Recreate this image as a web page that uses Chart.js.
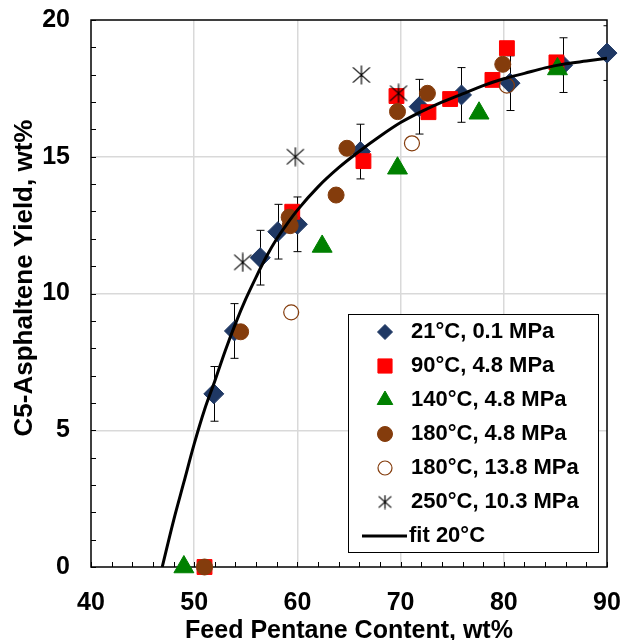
<!DOCTYPE html>
<html>
<head>
<meta charset="utf-8">
<script src="https://cdn.jsdelivr.net/npm/chart.js@4.4.1/dist/chart.umd.min.js"></script>
<style>
  html, body { margin: 0; padding: 0; background: #fff; }
  #wrap { width: 624px; height: 640px; }
</style>
</head>
<body>
<div id="wrap"><canvas id="yieldChart" width="624" height="640"></canvas></div>
<script>
// Values
const seriesNames = ['21°C, 0.1 MPa', '90°C, 4.8 MPa', '140°C, 4.8 MPa', '180°C, 4.8 MPa',
                     '180°C, 13.8 MPa', '250°C, 10.3 MPa', 'fit 20°C'];

const pentane21 = [51.9, 53.9, 56.4, 58.1, 60.0, 66.1, 71.8, 75.9, 80.6, 85.7, 90.0];
const yield21   = [6.33, 8.63, 11.31, 12.26, 12.53, 15.19, 16.83, 17.26, 17.69, 18.35, 18.79];
const error21   = [1.0, 1.0, 1.0, 1.0, 1.0, 1.0, 1.0, 1.0, 1.0, 1.0, 1.0];

const pentane90 = [51.0, 59.5, 66.4, 69.6, 72.7, 74.8, 78.9, 80.3, 85.1];
const yield90   = [0, 12.99, 14.84, 17.22, 16.63, 17.11, 17.81, 18.97, 18.45];

const pentane140 = [49.0, 62.4, 69.7, 77.6, 85.2];
const yield140   = [0, 11.72, 14.58, 16.59, 18.21];

const pentane180 = [51.0, 54.5, 59.2, 59.3, 63.75, 64.8, 69.7, 72.6, 79.9];
const yield180   = [0, 8.6, 12.79, 12.48, 13.6, 15.31, 16.65, 17.32, 18.38];

const pentane180hp = [59.4, 71.1, 80.3];
const yield180hp   = [9.31, 15.49, 17.6];

const pentane250 = [54.7, 59.8, 66.2, 69.8];
const yield250   = [11.14, 15.0, 17.99, 17.32];

const fitX = [46.9, 48, 49, 50, 51, 52, 53, 54, 55, 56, 57, 58, 59, 60, 62, 64, 66, 68, 70,
              72, 74, 76, 78, 80, 82, 84, 86, 88, 90];
const fitY = [0, 1.7, 3.1, 4.5, 5.75, 6.8, 7.9, 8.9, 9.8, 10.6, 11.35, 12.0, 12.55, 13.05, 13.9,
              14.6, 15.2, 15.75, 16.25, 16.65, 17.0, 17.3, 17.6, 17.85, 18.05, 18.25, 18.4, 18.5, 18.6];

const xTicksMajor = [40, 50, 60, 70, 80, 90];
const yTicksMajor = [0, 5, 10, 15, 20];
const yTitle = 'C5-Asphaltene Yield, wt%';

const toPoints = (xs, ys) => xs.map((x, i) => ({ x: x, y: ys[i] }));

const FONT = '"Liberation Sans", Arial, sans-serif';
Chart.defaults.font.family = FONT;
Chart.defaults.color = '#000';

// six-armed asterisk marker
function makeAsterisk(size) {
    const c = document.createElement('canvas');
    c.width = size; c.height = size;
    const g = c.getContext('2d');
    const m = size / 2, r = size / 2 - 0.5;
    g.strokeStyle = '#000';
    g.lineWidth = 1.2;
    g.beginPath();
    g.moveTo(m - r * 0.9, m - r * 0.8); g.lineTo(m + r * 0.9, m + r * 0.8);
    g.moveTo(m + r * 0.9, m - r * 0.8); g.lineTo(m - r * 0.9, m + r * 0.8);
    g.moveTo(m, 0.5); g.lineTo(m, size - 0.5);
    g.stroke();
    return c;
}
const asteriskBig = makeAsterisk(20);
const asteriskSmall = makeAsterisk(15);

// frame + inward minor ticks + y title
const frameTicks = {
    id: 'frameTicks',
    beforeDatasetsDraw(chart) {
        const { ctx, chartArea: a, scales: { x, y } } = chart;
        ctx.save();
        ctx.strokeStyle = '#000';
        ctx.lineWidth = 1;
        ctx.beginPath();
        for (let v = 40; v <= 90; v += 2) {
            const px = Math.round(x.getPixelForValue(v)) + 0.5;
            ctx.moveTo(px, a.bottom); ctx.lineTo(px, a.bottom - 5);
        }
        for (let v = 0; v <= 20; v += 1) {
            const py = Math.round(y.getPixelForValue(v)) + 0.5;
            ctx.moveTo(a.left, py); ctx.lineTo(a.left + 5, py);
        }
        ctx.stroke();
        ctx.lineWidth = 1.5;
        ctx.strokeRect(a.left, a.top, a.right - a.left, a.bottom - a.top);

        // y axis title, sits a bit above the plot centre like the original
        ctx.translate(25, 278);
        ctx.rotate(-Math.PI / 2);
        ctx.fillStyle = '#000';
        ctx.font = 'bold 26px ' + FONT;
        ctx.textAlign = 'center';
        ctx.textBaseline = 'middle';
        ctx.fillText(yTitle, 0, 0);
        ctx.restore();
    }
};

// error bars for the 21°C series
const errorBars = {
    id: 'errorBars',
    beforeDatasetsDraw(chart) {
        const { ctx, chartArea: a, scales: { x, y } } = chart;
        ctx.save();
        ctx.beginPath();
        ctx.rect(a.left, a.top, a.right - a.left, a.bottom - a.top);
        ctx.clip();
        ctx.strokeStyle = '#000';
        ctx.lineWidth = 1;
        ctx.beginPath();
        pentane21.forEach((v, i) => {
            const px = Math.round(x.getPixelForValue(v)) + 0.5;
            const top = y.getPixelForValue(yield21[i] + error21[i]);
            const bot = y.getPixelForValue(yield21[i] - error21[i]);
            ctx.moveTo(px, top); ctx.lineTo(px, bot);
            ctx.moveTo(px - 4, top); ctx.lineTo(px + 4, top);
            ctx.moveTo(px - 4, bot); ctx.lineTo(px + 4, bot);
        });
        ctx.stroke();
        ctx.restore();
    }
};

// legend box inside the plot
const boxLegend = {
    id: 'boxLegend',
    afterDraw(chart) {
        const { ctx, chartArea: a } = chart;
        const right = a.right - 9, bottom = a.bottom - 15;
        const left = right - 250, top = bottom - 238;
        ctx.save();
        ctx.fillStyle = '#fff';
        ctx.fillRect(left, top, right - left, bottom - top);
        ctx.strokeStyle = '#000';
        ctx.lineWidth = 1;
        ctx.strokeRect(left + 0.5, top + 0.5, right - left, bottom - top);

        const markers = [
            { pointStyle: 'rectRot', radius: 7.5, fill: '#1F3864', stroke: '#1F3864' },
            { pointStyle: 'rect', radius: 10, fill: '#FF0000', stroke: '#FF0000' },
            { pointStyle: 'triangle', radius: 9, fill: '#008000', stroke: '#008000' },
            { pointStyle: 'circle', radius: 7.5, fill: '#843C0C', stroke: '#843C0C' },
            { pointStyle: 'circle', radius: 7, fill: 'rgba(0,0,0,0)', stroke: '#843C0C', bw: 1.2 },
            { pointStyle: asteriskSmall, radius: 7, fill: '#000', stroke: '#000' }
        ];
        ctx.font = 'bold 22px ' + FONT;
        ctx.textBaseline = 'middle';
        ctx.textAlign = 'left';
        const mx = left + 37, tx = left + 63;
        seriesNames.forEach((name, i) => {
            const ry = top + 18 + i * 34;
            if (i < markers.length) {
                const m = markers[i];
                ctx.fillStyle = m.fill;
                ctx.strokeStyle = m.stroke;
                ctx.lineWidth = m.bw || 1;
                Chart.helpers.drawPoint(ctx, { pointStyle: m.pointStyle, radius: m.radius, rotation: 0, borderWidth: m.bw || 1 }, mx, ry);
            } else {
                ctx.strokeStyle = '#000';
                ctx.lineWidth = 3;
                ctx.beginPath();
                ctx.moveTo(left + 14, ry); ctx.lineTo(left + 59, ry);
                ctx.stroke();
            }
            ctx.fillStyle = '#000';
            ctx.fillText(name, i < markers.length ? tx : left + 61, ry);
        });
        ctx.restore();
    }
};

const ctx = document.getElementById('yieldChart').getContext('2d');

new Chart(ctx, {
    type: 'scatter',
    data: {
        datasets: [
            {
                label: seriesNames[0], data: toPoints(pentane21, yield21), order: 6, clip: false,
                pointStyle: 'rectRot', pointRadius: 10, backgroundColor: '#1F3864', borderColor: '#1F3864', borderWidth: 1
            },
            {
                label: seriesNames[1], data: toPoints(pentane90, yield90), order: 5, clip: false,
                pointStyle: 'rect', pointRadius: 10.5, backgroundColor: '#FF0000', borderColor: '#FF0000', borderWidth: 1
            },
            {
                label: seriesNames[2], data: toPoints(pentane140, yield140), order: 4, clip: false,
                pointStyle: 'triangle', pointRadius: 11.5, backgroundColor: '#008000', borderColor: '#008000', borderWidth: 1
            },
            {
                label: seriesNames[3], data: toPoints(pentane180, yield180), order: 3, clip: false,
                pointStyle: 'circle', pointRadius: 8, backgroundColor: '#843C0C', borderColor: '#843C0C', borderWidth: 1
            },
            {
                label: seriesNames[4], data: toPoints(pentane180hp, yield180hp), order: 2, clip: false,
                pointStyle: 'circle', pointRadius: 7.5, backgroundColor: 'rgba(0,0,0,0)', borderColor: '#843C0C', borderWidth: 1.2
            },
            {
                label: seriesNames[5], data: toPoints(pentane250, yield250), order: 1, clip: false,
                pointStyle: asteriskBig, pointRadius: 10, backgroundColor: '#000', borderColor: '#000'
            },
            {
                type: 'line', label: seriesNames[6], data: toPoints(fitX, fitY), order: 0,
                borderColor: '#000', borderWidth: 3, pointRadius: 0, fill: false,
                tension: 0.4, cubicInterpolationMode: 'monotone'
            }
        ]
    },
    options: {
        responsive: false,
        animation: false,
        devicePixelRatio: 1,
        events: [],
        layout: { padding: { left: 0, top: 20, right: 17, bottom: 0 } },
        plugins: {
            legend: { display: false },
            tooltip: { enabled: false }
        },
        scales: {
            x: {
                type: 'linear',
                min: 40, max: 90,
                afterFit: (scale) => {
                    scale.height = 73;
                    scale.paddingLeft = 0; scale.paddingRight = 0;
                },
                ticks: {
                    stepSize: 2,
                    autoSkip: false,
                    maxRotation: 0,
                    padding: 21,
                    font: { size: 25, weight: 'bold' },
                    callback: (v) => xTicksMajor.includes(v) ? String(v) : ''
                },
                grid: {
                    drawTicks: false,
                    lineWidth: 1.5,
                    color: (c) => (c.tick && c.tick.value % 10 === 0 && c.tick.value > 40 && c.tick.value < 90) ? '#D9D9D9' : 'rgba(0,0,0,0)'
                },
                border: { display: false },
                title: {
                    display: true,
                    text: 'Feed Pentane Content, wt%',
                    font: { size: 25, weight: 'bold' },
                    padding: { top: 0, bottom: -6 }
                }
            },
            y: {
                type: 'linear',
                min: 0, max: 20,
                afterFit: (scale) => {
                    scale.width = 91;
                    scale.paddingTop = 0; scale.paddingBottom = 0;
                },
                ticks: {
                    stepSize: 1,
                    autoSkip: false,
                    padding: 21,
                    font: { size: 25, weight: 'bold' },
                    callback: (v) => yTicksMajor.includes(v) ? String(v) : ''
                },
                grid: {
                    drawTicks: false,
                    lineWidth: 1.5,
                    color: (c) => (c.tick && c.tick.value % 5 === 0 && c.tick.value > 0 && c.tick.value < 20) ? '#D9D9D9' : 'rgba(0,0,0,0)'
                },
                border: { display: false },
                title: { display: false }
            }
        }
    },
    plugins: [frameTicks, errorBars, boxLegend]
});
</script>
</body>
</html>
